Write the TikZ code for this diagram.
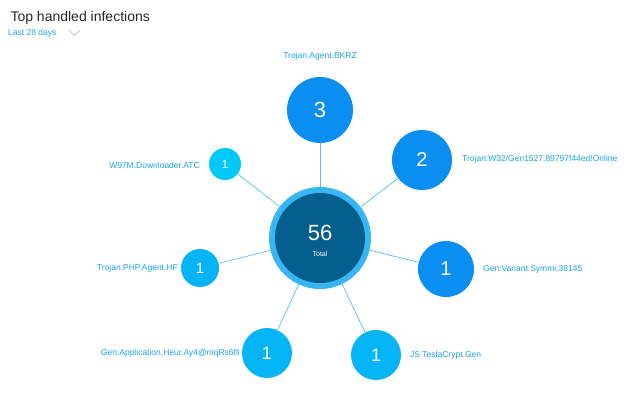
\documentclass[tikz,border=0pt]{standalone}
\usepackage{fontspec}
\setmainfont{Liberation Sans}
\definecolor{lbl}{HTML}{1AA3E8}
\definecolor{edge}{HTML}{55BDF2}
\definecolor{ring}{HTML}{38B6F4}
\definecolor{core}{HTML}{045F8F}
\definecolor{bigb}{HTML}{0A8EF0}
\definecolor{midb}{HTML}{05B4F5}
\definecolor{litb}{HTML}{00C8F7}
\begin{document}
\begin{tikzpicture}[x=1pt,y=-1pt,
  lab/.style={text=lbl,font=\fontsize{8.5}{10}\selectfont,inner sep=0pt},
  num/.style={circle,inner sep=0pt,text=white},
  con/.style={draw=edge,line width=0.7pt}]
\useasboundingbox (0,0) rectangle (636,413);
\node[anchor=west,font=\fontsize{14}{16}\selectfont,text=black!85] (title) at (7,18) {Top handled infections};
\node[anchor=west,lab] (period) at (8,33) {Last 28 days};
\draw[gray!60,line width=0.6pt] (69,30) -- (74.5,35.5) -- (80,30);
% centre
\node[circle,fill=ring,minimum size=102pt,inner sep=0pt] (c) at (320,238) {};
\node[circle,fill=core,minimum size=90pt,inner sep=0pt] (ci) at (320,238) {};
\node[text=white,font=\fontsize{22}{24}\selectfont] (ctn) at (320,233) {56};
\node[text=white,font=\fontsize{7}{8}\selectfont] (ctl) at (320,254) {Total};
% satellites
\node[num,fill=bigb,minimum size=66pt,font=\fontsize{22}{24}\selectfont] (a) at (320,110) {3};
\node[num,fill=bigb,minimum size=60pt,font=\fontsize{20}{22}\selectfont] (b) at (422,160) {2};
\node[num,fill=bigb,minimum size=56pt,font=\fontsize{20}{22}\selectfont] (d) at (446,269) {1};
\node[num,fill=midb,minimum size=50pt,font=\fontsize{18}{20}\selectfont] (e) at (376,355) {1};
\node[num,fill=midb,minimum size=50pt,font=\fontsize{18}{20}\selectfont] (f) at (267,353) {1};
\node[num,fill=midb,minimum size=38pt,font=\fontsize{15}{17}\selectfont] (g) at (200,268) {1};
\node[num,fill=litb,minimum size=32pt,font=\fontsize{12}{14}\selectfont] (h) at (225,164) {1};
\begin{scope}[on background layer/.style={}]
\end{scope}
\foreach \n in {a,b,d,e,f,g,h} \draw[con] (c) -- (\n);
% labels
\node[lab] (la) at (320,56) {Trojan.Agent.BKRZ};
\node[lab,anchor=west] (lb) at (462,159) {Trojan:W32/Gen1527.89797f44ed!Online};
\node[lab,anchor=west] (ld) at (483,269) {Gen:Variant.Symmi.38145};
\node[lab,anchor=west] (le) at (410,355) {JS.TeslaCrypt.Gen};
\node[lab,anchor=east] (lf) at (240,353) {Gen:Application.Heur.Ay4@mqRs6fli};
\node[lab,anchor=east] (lg) at (178,268) {Trojan.PHP.Agent.HF};
\node[lab,anchor=east] (lh) at (200,165) {W97M.Downloader.ATC};
\end{tikzpicture}
\end{document}
